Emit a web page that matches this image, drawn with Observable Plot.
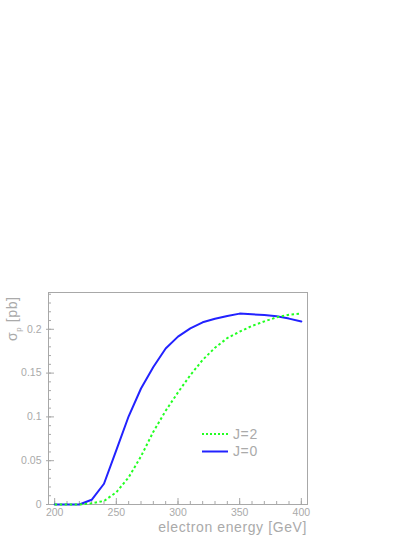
<!DOCTYPE html>
<html>
<head>
<meta charset="utf-8">
<script src="https://cdn.jsdelivr.net/npm/d3@7"></script>
<script src="https://cdn.jsdelivr.net/npm/@observablehq/plot@0.6"></script>
<style>
  html, body { margin: 0; padding: 0; background: white; }
  #chart { position: relative; width: 415px; height: 537px; }
</style>
</head>
<body>
<div id="chart"></div>
<script>
const energy = [200,210,220,230,240,250,260,270,280,290,300,310,320,330,340,350,360,370,380,390,400];
const sigmaJ0 = [0,0,0,0.0054,0.0237,0.062,0.1007,0.1324,0.157,0.178,0.1916,0.201,0.208,0.212,0.2152,0.2179,0.2171,0.2163,0.2148,0.2122,0.2088];
const sigmaJ2 = [0,0,0,0.0015,0.004,0.014,0.031,0.055,0.083,0.107,0.128,0.1477,0.165,0.179,0.190,0.1973,0.2038,0.209,0.2137,0.2167,0.2179];
const seriesNames = ["J=2", "J=0"];
const seriesColors = ["#22ff22", "#2222ff"];
const xMajor = [200,250,300,350,400];
const xMinor = d3.range(200, 401, 10);
const yMajor = [0,0.05,0.1,0.15,0.2];
const yMinor = d3.range(0, 0.2401, 0.01);

const rows = energy.flatMap((e, i) => [
  {e, s: sigmaJ0[i], series: "J=0"},
  {e, s: sigmaJ2[i], series: "J=2"}
]);

const gray = "#a8a8a8";
const font = "'Liberation Sans', Arial, sans-serif";
const plot = Plot.plot({
  width: 415, height: 537,
  marginTop: 292, marginLeft: 48, marginRight: 108, marginBottom: 33,
  x: {domain: [195, 405]},
  y: {domain: [0, 0.242]},
  style: {fontFamily: font, background: "white", color: "#aaa"},
  marks: [
    Plot.frame({stroke: gray}),
    Plot.axisX(xMinor, {tickSize: -3, tickFormat: () => "", stroke: gray, label: null}),
    Plot.axisX(xMajor, {tickSize: -6, tickFormat: () => "", stroke: gray, label: null}),
    Plot.axisX(xMajor, {tickSize: 0, tickPadding: 4, fontSize: 10.5, fill: "#aaa", label: null, tickFormat: d3.format("d")}),
    Plot.axisY(yMinor, {tickSize: -3, tickFormat: () => "", stroke: gray, label: null}),
    Plot.axisY(yMajor, {tickSize: -6, tickFormat: () => "", stroke: gray, label: null}),
    Plot.axisY(yMajor, {tickSize: 2, tickPadding: 5, fontSize: 10.5, fill: "#aaa", stroke: gray, label: null, tickFormat: d => d === 0 ? "0" : String(d)}),
    Plot.line(rows.filter(d => d.series === "J=0"), {x: "e", y: "s", stroke: seriesColors[1], strokeWidth: 2}),
    Plot.line(rows.filter(d => d.series === "J=2"), {x: "e", y: "s", stroke: seriesColors[0], strokeWidth: 2, strokeDasharray: "2.5,2.5", strokeLinecap: "butt"})
  ]
});
document.getElementById("chart").appendChild(plot);

const svg = d3.select(plot);
// x axis label
svg.append("text")
  .attr("x", 307).attr("y", 532)
  .attr("text-anchor", "end")
  .attr("fill", "#aaa")
  .attr("font-size", 14)
  .attr("letter-spacing", 0.6)
  .attr("font-family", font)
  .text("electron energy [GeV]");
// y axis label with subscript
const yl = svg.append("text")
  .attr("transform", "translate(17,341) rotate(-90)")
  .attr("text-anchor", "start")
  .attr("fill", "#aaa")
  .attr("font-size", 14)
  .attr("letter-spacing", 0.6)
  .attr("font-family", font);
yl.append("tspan").text("σ");
yl.append("tspan").attr("font-size", 8).attr("dy", 4).text("p");
yl.append("tspan").attr("dy", -4).text(" [pb]");
// legend
const legend = svg.append("g").attr("font-family", font).attr("text-anchor", "start");
seriesNames.forEach((name, i) => {
  const y = 434 + i * 17.5;
  legend.append("line").attr("x1", 202).attr("x2", 228).attr("y1", y).attr("y2", y)
    .attr("stroke", seriesColors[i]).attr("stroke-width", 2)
    .attr("stroke-dasharray", i === 0 ? "2,2" : null);
  legend.append("text").attr("x", 233).attr("y", y).attr("dy", "0.35em")
    .attr("fill", "#aaa").attr("font-size", 14).attr("letter-spacing", 0.6).text(name);
});
</script>
</body>
</html>
